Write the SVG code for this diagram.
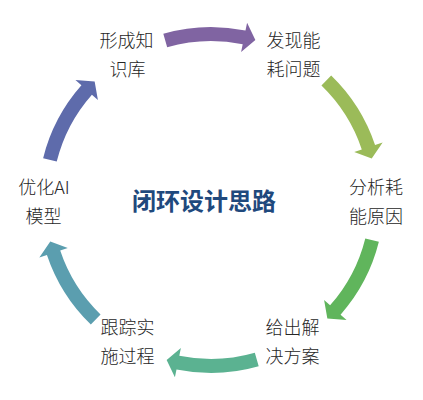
<svg xmlns="http://www.w3.org/2000/svg" width="423" height="400" viewBox="0 0 423 400">
<defs>
<style>
.lbl{font-family:"Noto Sans CJK SC","Liberation Sans",sans-serif;font-size:18px;font-weight:300;fill:#262626;text-anchor:middle;}
.title{font-family:"Noto Sans CJK SC","Liberation Sans",sans-serif;font-size:24px;font-weight:bold;fill:#1F497D;text-anchor:middle;}
</style>
<path id="arc" d="M -47.69 -166.30 A 173 173 0 0 1 34.49 -169.53 L 36.09 -177.37 L 44.36 -159.96 L 30.11 -147.97 L 31.70 -155.81 A 159 159 0 0 0 -43.83 -152.84 Z"/>
</defs>
<rect width="423" height="400" fill="#ffffff"/>
<g id="connectors" transform="translate(211,200)">
<use href="#arc" fill="#8064A2"/>
<use href="#arc" fill="#9BBB59" transform="rotate(60)"/>
<use href="#arc" fill="#60B55C" transform="rotate(120)"/>
<use href="#arc" fill="#5BB291" transform="rotate(180)"/>
<use href="#arc" fill="#5B9EAF" transform="rotate(240)"/>
<use href="#arc" fill="#5E6BAB" transform="rotate(300)"/>
</g>
<g id="node-1"><text class="lbl" x="126.5" y="47">形成知</text><text class="lbl" x="127.5" y="76">识库</text></g>
<g id="node-2"><text class="lbl" x="293.5" y="47">发现能</text><text class="lbl" x="293.5" y="76">耗问题</text></g>
<g id="node-3"><text class="lbl" x="376" y="194">分析耗</text><text class="lbl" x="376" y="222.5">能原因</text></g>
<g id="node-4"><text class="lbl" x="292.5" y="334">给出解</text><text class="lbl" x="292.5" y="363">决方案</text></g>
<g id="node-5"><text class="lbl" x="127.5" y="334">跟踪实</text><text class="lbl" x="127.5" y="363">施过程</text></g>
<g id="node-6"><text class="lbl" x="44" y="194">优化AI</text><text class="lbl" x="43.5" y="222.5">模型</text></g>
<g id="center"><text class="title" x="204" y="210">闭环设计思路</text></g>
</svg>
